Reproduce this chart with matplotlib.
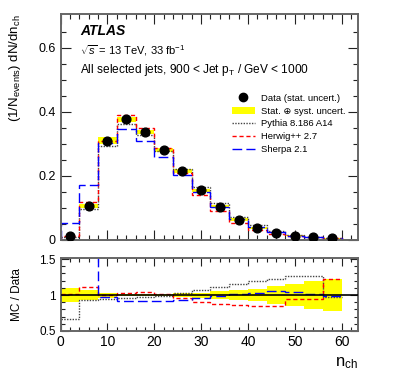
import numpy as np
import matplotlib
matplotlib.use("Agg")
import matplotlib.pyplot as plt
from matplotlib.lines import Line2D
from matplotlib.patches import Patch

plt.rcParams["font.family"] = ["Liberation Sans", "DejaVu Sans"]
plt.rcParams["mathtext.fontset"] = "custom"
plt.rcParams["mathtext.rm"] = "Liberation Sans"
plt.rcParams["mathtext.it"] = "Liberation Sans:italic"

# bins in n_ch
edges = np.arange(0, 61, 4)
# data, (1/N) dN/dn_ch
data = [0.012, 0.105, 0.310, 0.377, 0.337, 0.280, 0.216, 0.155,
        0.104, 0.063, 0.038, 0.023, 0.013, 0.008, 0.005]
# relative stat+syst uncertainty
rel_err = [0.10, 0.065, 0.035, 0.02, 0.02, 0.02, 0.03, 0.035,
           0.05, 0.075, 0.09, 0.12, 0.16, 0.20, 0.22]
# MC / data ratios
r_pythia = [0.66, 0.93, 0.95, 0.96, 0.97, 0.99, 1.03, 1.07,
            1.11, 1.15, 1.19, 1.22, 1.26, 1.27, 0.97]
r_herwig = [1.02, 1.115, 1.0, 1.035, 1.04, 1.02, 0.96, 0.90,
            0.87, 0.86, 0.84, 0.84, 0.95, 0.95, 1.22]
r_sherpa = [4.3, 1.62, 0.975, 0.92, 0.92, 0.92, 0.935, 0.955,
            0.98, 1.02, 1.03, 1.05, 1.04, 1.01, 0.98]

data = np.array(data); rel_err = np.array(rel_err)
centers = 0.5 * (edges[1:] + edges[:-1])
width = np.diff(edges)

styles = {
    "Pythia 8.186 A14": (r_pythia, "#444444", (0, (1, 1))),
    "Herwig++ 2.7": (r_herwig, "red", (0, (3, 2))),
    "Sherpa 2.1": (r_sherpa, "blue", (0, (7, 3))),
}

fig = plt.figure(figsize=(3.99, 3.79), dpi=100)
ax = fig.add_axes([0.152, 0.367, 0.745, 0.596])
axr = fig.add_axes([0.152, 0.127, 0.745, 0.193])

# main panel
ax.bar(centers, 2 * rel_err * data, bottom=data * (1 - rel_err), width=width,
       color="yellow", linewidth=0, zorder=1)
for name, (r, c, ls) in styles.items():
    ax.stairs(data * np.array(r), edges, color=c, linestyle=ls, lw=1, zorder=2)
ax.plot(centers, data, "o", color="black", ms=6.3, zorder=3)

ax.set_xlim(0, 63.5); ax.set_ylim(0, 0.705)
ax.set_yticks([0, 0.2, 0.4, 0.6]); ax.set_yticklabels(["0", "0.2", "0.4", "0.6"])
ax.set_yticks(np.arange(0, 0.7, 0.05), minor=True)
ax.set_xticks(np.arange(0, 61, 10)); ax.set_xticks(np.arange(0, 64, 2), minor=True)
ax.set_xticklabels([])
ax.set_ylabel(r"(1/N$_{\mathrm{events}}$) dN/dn$_{\mathrm{ch}}$", fontsize=9.5, loc="top")
ax.yaxis.set_label_coords(-0.128, 1.0)

ax.text(0.066, 0.905, "ATLAS", transform=ax.transAxes, fontsize=10,
        fontweight="bold", style="italic")
ax.text(0.066, 0.82, r"$\sqrt{s}$ = 13 TeV, 33 fb$^{-1}$", transform=ax.transAxes, fontsize=8)
ax.text(0.066, 0.74, r"All selected jets, 900 < Jet p$_{\mathrm{T}}$ / GeV < 1000",
        transform=ax.transAxes, fontsize=8.6)

handles = [Line2D([], [], marker="o", ls="none", color="black", ms=6),
           Patch(facecolor="yellow", edgecolor="none")]
labels = ["Data (stat. uncert.)", "Stat. \u2295 syst. uncert."]
for name, (r, c, ls) in styles.items():
    handles.append(Line2D([], [], color=c, ls=ls, lw=1))
    labels.append(name)
ax.legend(handles, labels, loc="upper left", bbox_to_anchor=(0.575, 0.648),
          frameon=False, fontsize=6.8, handlelength=2.45, handletextpad=0.64,
          labelspacing=0.42, borderpad=0, borderaxespad=0)

# ratio panel
axr.bar(centers, 2 * rel_err, bottom=1 - rel_err, width=width,
        color="yellow", linewidth=0, zorder=1)
axr.axhline(1, color="black", lw=1.2, zorder=3)
for name, (r, c, ls) in styles.items():
    axr.stairs(r, edges, baseline=None, color=c, linestyle=ls, lw=1, zorder=2)
axr.set_xlim(0, 63.5); axr.set_ylim(0.5, 1.52)
axr.set_yticks([0.5, 1, 1.5]); axr.set_yticklabels(["0.5", "1", "1.5"])
axr.set_yticks(np.arange(0.5, 1.51, 0.1), minor=True)
axr.set_xticks(np.arange(0, 61, 10)); axr.set_xticks(np.arange(0, 64, 2), minor=True)
axr.set_ylabel("MC / Data", fontsize=8.5)
axr.yaxis.set_label_coords(-0.128, 0.5)
axr.set_xlabel(r"n$_{\mathrm{ch}}$", fontsize=12, loc="right")
axr.xaxis.set_label_coords(1.0, -0.33)

for a in (ax, axr):
    for s in a.spines.values():
        s.set_color("#666666"); s.set_linewidth(1.4)
    a.tick_params(which="both", direction="in", top=True, right=True,
                  color="#222222", width=0.8)
    a.tick_params(which="major", length=7)
    a.tick_params(which="minor", length=3.5)
axr.tick_params(which="major", length=6)
axr.tick_params(which="minor", length=3)
ax.tick_params(axis="y", labelsize=9)
axr.tick_params(axis="y", labelsize=8.5)
axr.tick_params(axis="x", labelsize=10, pad=3)

fig.savefig("out.png", dpi=100)
